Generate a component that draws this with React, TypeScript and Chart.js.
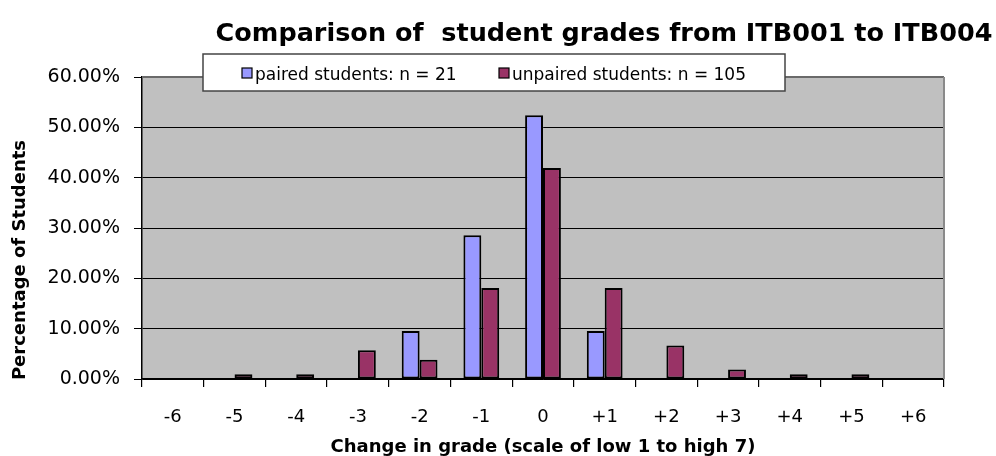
import { useEffect, useRef } from 'react';
import { Chart, registerables } from 'chart.js';

Chart.register(...registerables);

const categories = ['-6', '-5', '-4', '-3', '-2', '-1', '0', '+1', '+2', '+3', '+4', '+5', '+6'];
const pairedValues = [0, 0, 0, 0, 9.52, 28.57, 52.38, 9.52, 0, 0, 0, 0, 0];
const unpairedValues = [0, 0.95, 0.95, 5.71, 3.81, 18.1, 41.9, 18.1, 6.67, 1.9, 0.95, 0.95, 0];
const seriesLabels = ['paired students: n = 21', 'unpaired students: n = 105'];
const seriesColors = ['#9999FF', '#993366'];
const chartTitle = 'Comparison of  student grades from ITB001 to ITB004';
const yAxisTitle = 'Percentage of Students';
const xAxisTitle = 'Change in grade (scale of low 1 to high 7)';
const yMin = 0;
const yMax = 60;
const yStep = 10;

const FONT = '"DejaVu Sans", "Liberation Sans", Arial, sans-serif';

export default function App() {
  const ref = useRef<HTMLCanvasElement>(null);

  useEffect(() => {
    document.body.style.margin = '0';
    const canvas = ref.current;
    if (!canvas) return;

    const decor = {
      id: 'decor',
      beforeDraw(chart: any) {
        const { ctx, chartArea: a } = chart;
        ctx.save();
        ctx.fillStyle = '#C0C0C0';
        ctx.fillRect(a.left, a.top, a.right - a.left, a.bottom - a.top);
        ctx.restore();
      },
      afterDraw(chart: any) {
        const { ctx, chartArea: a } = chart;
        ctx.save();
        // plot frame top / right
        ctx.strokeStyle = '#6a6a6a';
        ctx.lineWidth = 2;
        ctx.beginPath();
        ctx.moveTo(a.left, a.top);
        ctx.lineTo(a.right, a.top);
        ctx.stroke();
        ctx.strokeStyle = '#8a8a8a';
        ctx.beginPath();
        ctx.moveTo(a.right, a.top);
        ctx.lineTo(a.right, a.bottom);
        ctx.stroke();

        // chart title
        ctx.fillStyle = '#000';
        ctx.font = `bold 25.5px ${FONT}`;
        ctx.textAlign = 'center';
        ctx.textBaseline = 'alphabetic';
        ctx.fillText(chartTitle, (a.left + a.right) / 2 + 61, a.top - 36);

        // y axis title
        ctx.save();
        ctx.translate(25, (a.top + a.bottom) / 2 + 32);
        ctx.rotate(-Math.PI / 2);
        ctx.font = `bold 18px ${FONT}`;
        ctx.textAlign = 'center';
        ctx.textBaseline = 'alphabetic';
        ctx.fillText(yAxisTitle, 0, 0);
        ctx.restore();

        // legend
        const lx = a.left + 61;
        const ly = a.top - 23;
        const lw = 582;
        const lh = 37;
        ctx.fillStyle = '#fff';
        ctx.fillRect(lx, ly, lw, lh);
        ctx.strokeStyle = '#444';
        ctx.lineWidth = 1.5;
        ctx.strokeRect(lx, ly, lw, lh);
        const itemX = [lx + 39, lx + 296];
        ctx.font = `17px ${FONT}`;
        ctx.textAlign = 'left';
        ctx.textBaseline = 'alphabetic';
        chart.data.datasets.forEach((ds: any, i: number) => {
          const sx = itemX[i];
          const sy = ly + 14;
          ctx.fillStyle = ds.backgroundColor;
          ctx.fillRect(sx, sy, 10, 10);
          ctx.strokeStyle = '#000';
          ctx.lineWidth = 1.2;
          ctx.strokeRect(sx, sy, 10, 10);
          ctx.fillStyle = '#000';
          ctx.fillText(ds.label, sx + 13, ly + 26);
        });
        ctx.restore();
      },
    };

    const chart = new Chart(canvas, {
      type: 'bar',
      data: {
        labels: categories,
        datasets: [
          {
            label: seriesLabels[0],
            data: pairedValues,
            backgroundColor: seriesColors[0],
            borderColor: '#000',
            borderWidth: 2,
            borderSkipped: false,
          },
          {
            label: seriesLabels[1],
            data: unpairedValues,
            backgroundColor: seriesColors[1],
            borderColor: '#000',
            borderWidth: 2,
            borderSkipped: false,
          },
        ],
      },
      options: {
        responsive: false,
        animation: false,
        layout: { padding: { top: 77, right: 52, bottom: 0, left: 0 } },
        datasets: { bar: { categoryPercentage: 0.58, barPercentage: 1 } },
        plugins: {
          legend: { display: false },
          title: { display: false },
          tooltip: { enabled: false },
        },
        scales: {
          x: {
            grid: {
              display: true,
              drawOnChartArea: false,
              drawTicks: true,
              tickLength: 8,
              color: '#000',
              lineWidth: 1.2,
              offset: true,
            },
            border: { color: '#000', width: 1.5 },
            ticks: {
              color: '#000',
              font: { family: FONT, size: 18 },
              padding: 20,
            },
            title: {
              display: true,
              text: xAxisTitle,
              color: '#000',
              font: { family: FONT, size: 18, weight: 'bold' },
              padding: { top: 0, bottom: -2 },
            },
            afterFit(scale: any) {
              scale.height = 77;
            },
          },
          y: {
            min: yMin,
            max: yMax,
            grid: {
              color: '#000',
              lineWidth: 1,
              tickLength: 8,
            },
            border: { color: '#000', width: 1.5 },
            ticks: {
              stepSize: yStep,
              color: '#000',
              font: { family: FONT, size: 19 },
              padding: 14,
              callback: (v: any) => Number(v).toFixed(2) + '%',
            },
            afterFit(scale: any) {
              scale.width = 142;
            },
          },
        },
      },
      plugins: [decor],
    });

    return () => chart.destroy();
  }, []);

  return (
    <div style={{ width: 996, height: 456 }}>
      <canvas ref={ref} width={996} height={456} style={{ display: 'block' }} />
    </div>
  );
}
